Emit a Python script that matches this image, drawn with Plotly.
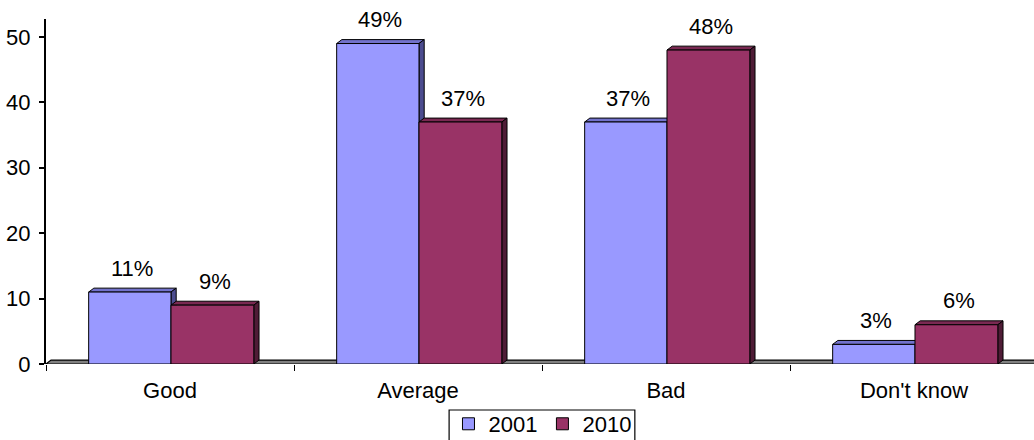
import plotly.graph_objects as go

# Survey answers, share of respondents (%)
categories = ["Good", "Average", "Bad", "Don't know"]
values_2001 = [11, 49, 37, 3]
values_2010 = [9, 37, 48, 6]
series_names = ["2001", "2010"]
y_ticks = [0, 10, 20, 30, 40, 50]

FONT = "Liberation Sans, Arial, sans-serif"
FS = 22

# front / top / side shades for the pseudo-3D columns
shades = {
    "2001": ("#9999FF", "#7272CC", "#4C4C8F"),
    "2010": ("#993366", "#7A2952", "#4F1C36"),
}
bar_width = {"2001": 0.332, "2010": 0.334}
bar_offset = {"2001": -0.328, "2010": 0.004}

# depth of the extrusion in axis units
DX = 0.021
DY = 0.6

fig = go.Figure()
shapes = []
annotations = []

# floor strip under the columns
shapes.append(dict(
    type="path", xref="paper", yref="y", layer="below",
    path=f"M 0,0 L {5/988},{DY} L 1.02,{DY} L 1.02,0 Z",
    fillcolor="#808080", line=dict(color="#000000", width=1.2),
))

for name, vals in zip(series_names, [values_2001, values_2010]):
    front, top, side = shades[name]
    w, off = bar_width[name], bar_offset[name]
    fig.add_trace(go.Bar(
        name=name, x=categories, y=vals, width=w, offset=off,
        marker=dict(color=front, line=dict(color="#000000", width=1)),
        hoverinfo="skip",
    ))
    for i, v in enumerate(vals):
        x0 = i + off
        x1 = x0 + w
        # top face
        shapes.append(dict(
            type="path", xref="x", yref="y", layer="below",
            path=f"M {x0},{v} L {x0+DX},{v+DY} L {x1+DX},{v+DY} L {x1},{v} Z",
            fillcolor=top, line=dict(color="#000000", width=1),
        ))
        # side face
        shapes.append(dict(
            type="path", xref="x", yref="y", layer="below",
            path=f"M {x1},0 L {x1},{v} L {x1+DX},{v+DY} L {x1+DX},{DY} Z",
            fillcolor=side, line=dict(color="#000000", width=1),
        ))
        annotations.append(dict(
            x=(x0 + x1) / 2 + DX / 2, y=v, xref="x", yref="y",
            text=f"{v}%", showarrow=False, yanchor="middle", yshift=24,
            font=dict(family=FONT, size=FS, color="#000000"),
        ))

# legend frame, running off the bottom edge of the page
shapes.append(dict(
    type="rect", xref="paper", yref="paper", layer="above",
    x0=0.408, x1=0.596, y0=-0.1333, y1=-0.35,
    fillcolor="rgba(0,0,0,0)", line=dict(color="#000000", width=1.2),
))

fig.update_layout(
    width=1034, height=440,
    margin=dict(l=46, r=0, t=19, b=76, autoexpand=False),
    paper_bgcolor="#FFFFFF", plot_bgcolor="#FFFFFF",
    font=dict(family=FONT, size=FS, color="#000000"),
    barmode="overlay",
    shapes=shapes,
    annotations=annotations,
    showlegend=True,
    legend=dict(
        orientation="h", x=0.5025, xanchor="center", y=-0.113, yanchor="top",
        borderwidth=0, bgcolor="rgba(0,0,0,0)",
        font=dict(family=FONT, size=FS, color="#000000"),
        itemwidth=30, traceorder="normal",
    ),
    xaxis=dict(
        type="category", categoryorder="array", categoryarray=categories,
        range=[-0.5, 3.5 - 4 / 248],
        tickson="boundaries", ticks="outside", ticklen=6, tickwidth=1,
        tickcolor="#000000",
        showline=False, showgrid=False, zeroline=False,
        tickfont=dict(family=FONT, size=FS, color="#000000"),
        ticklabelstandoff=11,
    ),
    yaxis=dict(
        range=[0, 52.75], tickvals=y_ticks,
        ticks="outside", ticklen=5, tickwidth=1.5, tickcolor="#000000",
        showline=True, linecolor="#000000", linewidth=2,
        showgrid=False, zeroline=False,
        tickfont=dict(family=FONT, size=FS, color="#000000"),
        ticklabelstandoff=4,
    ),
)

fig.write_html("out.html")
